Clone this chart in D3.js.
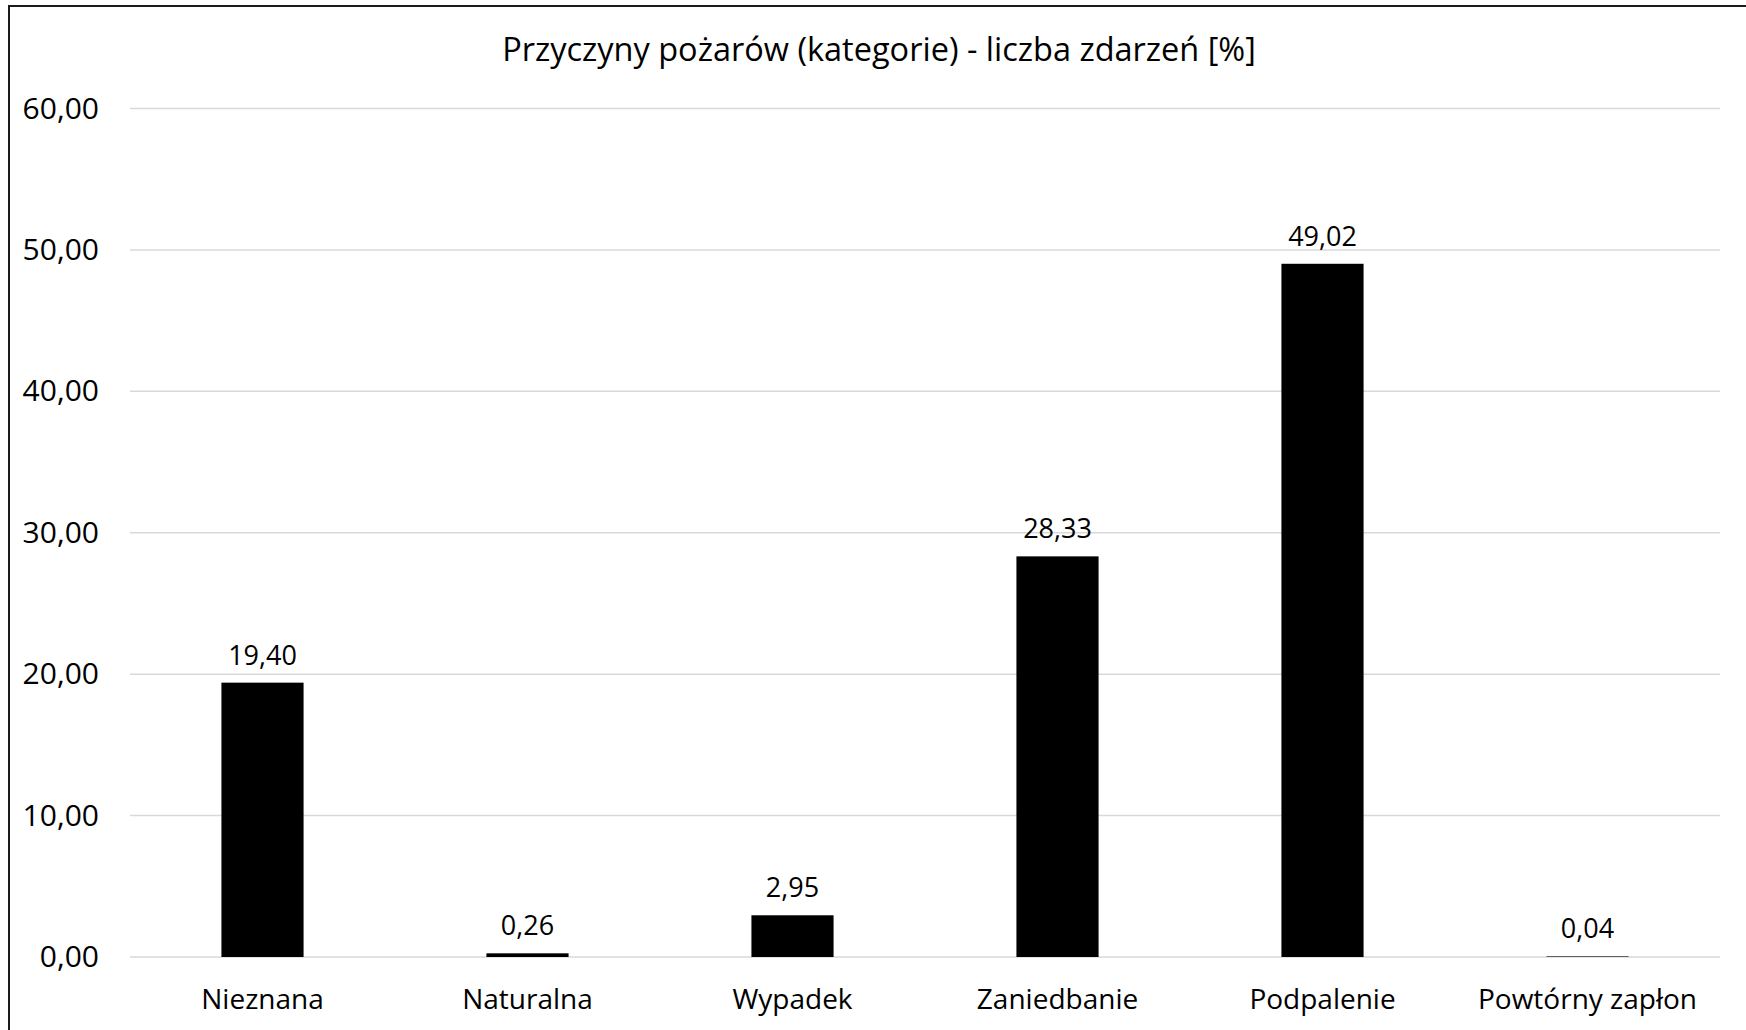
<!DOCTYPE html>
<html>
<head>
<meta charset="utf-8">
<script src="https://cdn.jsdelivr.net/npm/d3@7"></script>
<style>
  body { margin: 0; background: #fff; }
  text { font-family: "Open Sans", "Noto Sans", sans-serif; fill: #000; }
</style>
</head>
<body>
<div class="chart"></div>
<script>
const categories = ["Nieznana", "Naturalna", "Wypadek", "Zaniedbanie", "Podpalenie", "Powtórny zapłon"];
const values = [19.40, 0.26, 2.95, 28.33, 49.02, 0.04];
const yTicks = [0, 10, 20, 30, 40, 50, 60];
const title = "Przyczyny pożarów (kategorie) - liczba zdarzeń [%]";

const W = 1746, H = 1030;
const margin = { top: 108.5, right: 26, bottom: 73, left: 130 };
const width = W - margin.left - margin.right;
const height = H - margin.top - margin.bottom;

// polish number format: comma decimal
const pl = d3.formatLocale({ decimal: ",", thousands: " ", grouping: [3], currency: ["", " zł"] });
const fmt = pl.format(".2f");

const svg = d3.select(".chart").append("svg")
  .attr("width", W)
  .attr("height", H);

// chart border (runs off the right and bottom edge)
svg.append("rect")
  .attr("x", 9).attr("y", 6)
  .attr("width", 2000).attr("height", 2000)
  .attr("fill", "none")
  .attr("stroke", "#1a1a1a")
  .attr("stroke-width", 2);

svg.append("text")
  .attr("x", 879).attr("y", 61)
  .attr("text-anchor", "middle")
  .style("font-size", "32.5px")
  .text(title);

const g = svg.append("g")
  .attr("transform", "translate(" + margin.left + "," + margin.top + ")");

const x = d3.scaleBand().domain(categories).range([0, width]).paddingInner(0.69).paddingOuter(0.345);
const y = d3.scaleLinear().domain([0, 60]).range([height, 0]);

// gridlines
g.append("g")
  .selectAll("line")
  .data(yTicks)
  .enter()
  .append("line")
  .attr("x1", 0).attr("x2", width)
  .attr("y1", d => y(d)).attr("y2", d => y(d))
  .attr("stroke", "#d9d9d9")
  .attr("stroke-width", 1.5);

// y axis labels
const yAxis = g.append("g")
  .call(d3.axisLeft(y).tickValues(yTicks).tickFormat(fmt).tickSize(0).tickPadding(31));
yAxis.select(".domain").remove();
yAxis.selectAll("text").style("font-size", "30px").attr("fill", "#000");

// x axis labels
const xAxis = g.append("g")
  .attr("transform", "translate(0," + height + ")")
  .call(d3.axisBottom(x).tickSize(0).tickPadding(32));
xAxis.select(".domain").remove();
xAxis.selectAll("text").style("font-size", "28px").attr("fill", "#000");

// bars
g.selectAll(".bar")
  .data(values)
  .enter()
  .append("rect")
  .attr("class", "bar")
  .attr("x", (d, i) => x(categories[i]))
  .attr("width", x.bandwidth())
  .attr("y", d => y(d))
  .attr("height", d => height - y(d))
  .attr("fill", "#000");

// data labels
g.selectAll(".lbl")
  .data(values)
  .enter()
  .append("text")
  .attr("class", "lbl")
  .attr("x", (d, i) => x(categories[i]) + x.bandwidth() / 2)
  .attr("y", d => y(d) - 18)
  .attr("text-anchor", "middle")
  .style("font-size", "27px")
  .text(d => fmt(d));
</script>
</body>
</html>
